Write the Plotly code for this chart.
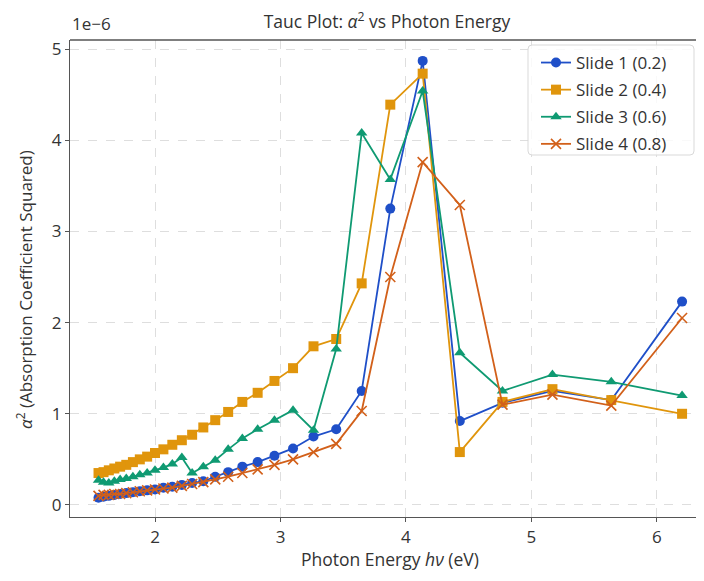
import plotly.graph_objects as go

# Photon energy (eV)
energy = [6.20, 5.636, 5.167, 4.769, 4.429, 4.133, 3.875, 3.647, 3.444, 3.263,
          3.10, 2.952, 2.818, 2.696, 2.583, 2.48, 2.385, 2.296, 2.214, 2.138,
          2.067, 2.00, 1.9375, 1.879, 1.824, 1.771, 1.722, 1.676, 1.632, 1.590, 1.55]

# alpha^2 values in units of 1e-6
slide1 = [2.23, 1.15, 1.25, 1.12, 0.92, 4.87, 3.25, 1.25, 0.83, 0.75,
          0.62, 0.54, 0.47, 0.42, 0.36, 0.31, 0.26, 0.24, 0.22, 0.20,
          0.19, 0.17, 0.16, 0.15, 0.14, 0.13, 0.12, 0.11, 0.10, 0.09, 0.08]
slide2 = [1.00, 1.15, 1.27, 1.13, 0.58, 4.73, 4.39, 2.43, 1.82, 1.74,
          1.50, 1.36, 1.23, 1.13, 1.02, 0.93, 0.85, 0.77, 0.71, 0.66,
          0.61, 0.57, 0.53, 0.50, 0.47, 0.44, 0.42, 0.40, 0.38, 0.36, 0.35]
slide3 = [1.20, 1.35, 1.43, 1.25, 1.67, 4.54, 3.57, 4.08, 1.71, 0.82,
          1.04, 0.93, 0.83, 0.73, 0.61, 0.49, 0.42, 0.35, 0.52, 0.45,
          0.41, 0.38, 0.35, 0.33, 0.31, 0.29, 0.28, 0.26, 0.24, 0.25, 0.27]
slide4 = [2.05, 1.09, 1.21, 1.10, 3.29, 3.76, 2.50, 1.03, 0.67, 0.58,
          0.50, 0.44, 0.39, 0.35, 0.31, 0.28, 0.25, 0.23, 0.21, 0.19,
          0.18, 0.17, 0.16, 0.15, 0.14, 0.13, 0.12, 0.12, 0.11, 0.11, 0.10]

names = ["Slide 1 (0.2)", "Slide 2 (0.4)", "Slide 3 (0.6)", "Slide 4 (0.8)"]
series = [slide1, slide2, slide3, slide4]
colors = ["#1f4fc8", "#e0950c", "#0f9a72", "#d2601a"]
symbols = ["circle", "square", "triangle-up", "x-thin"]

FONT = "Open Sans"
TXT = "#333333"
SPINE = "#555555"

# page body adds an 8px margin on every side; keep the page inside the window
W, H = 688, 565
PL, PT, PW, PH = 70, 40, 626, 477   # plot area in window pixels


def px(xw):
    return (xw - PL) / PW


def py(yw):
    return (PT + PH - yw) / PH


fig = go.Figure()
for i, (name, ys, c, s) in enumerate(zip(names, series, colors, symbols)):
    if s == "x-thin":
        marker = dict(symbol=s, size=10, color=c, line=dict(color=c, width=1.6))
    else:
        marker = dict(symbol=s, size=10, color=c, line=dict(width=0))
    fig.add_trace(go.Scatter(x=energy, y=ys, mode="lines+markers", name=name,
                             legendgroup=f"g{i}",
                             line=dict(color=c, width=1.8), marker=marker))

axis_common = dict(
    showline=True, linecolor=SPINE, linewidth=1.3, mirror=False,
    ticks="outside", ticklen=4, tickcolor=SPINE,
    showgrid=True, gridcolor="rgba(0,0,0,0.13)", griddash="dash", gridwidth=1,
    zeroline=False, tickfont=dict(size=17, color=TXT, family=FONT),
    automargin=False,
)

fig.update_layout(
    width=W, height=H,
    margin=dict(l=PL - 8, r=W + 8 - PL - PW, t=PT - 8, b=H + 8 - PT - PH),
    paper_bgcolor="white", plot_bgcolor="white",
    font=dict(family=FONT, color=TXT),
    title=dict(text="Tauc Plot: <i>α</i><sup>2</sup> vs Photon Energy",
               x=(387 - 8) / W, xanchor="center", y=1 - 14 / H, yanchor="middle",
               font=dict(size=17.5, color=TXT, family=FONT), automargin=False),
    xaxis=dict(range=[1.3227, 6.311], tickvals=[2, 3, 4, 5, 6], **axis_common),
    yaxis=dict(range=[-0.132, 5.099], tickvals=[0, 1, 2, 3, 4, 5], **axis_common),
    legend=dict(x=px(536), y=py(45), xanchor="left", yanchor="top",
                bgcolor="rgba(0,0,0,0)", borderwidth=0,
                font=dict(size=17, color=TXT, family=FONT), tracegroupgap=2,
                traceorder="grouped", itemwidth=30),
    showlegend=True,
)

# top spine (the right one lies beyond the window edge in the reference)
fig.add_shape(type="line", xref="paper", yref="paper", x0=0, x1=1, y0=1, y1=1,
              line=dict(color=SPINE, width=1.3))

# rounded legend frame
x0, x1, y0, y1 = px(528), px(694), py(155), py(45)
rx, ry = 4 / PW, 4 / PH
path = (f"M {x0 + rx},{y1} L {x1 - rx},{y1} Q {x1},{y1} {x1},{y1 - ry} "
        f"L {x1},{y0 + ry} Q {x1},{y0} {x1 - rx},{y0} L {x0 + rx},{y0} "
        f"Q {x0},{y0} {x0},{y0 + ry} L {x0},{y1 - ry} Q {x0},{y1} {x0 + rx},{y1} Z")
fig.add_shape(type="path", path=path, xref="paper", yref="paper", layer="above",
              fillcolor="rgba(255,255,255,0.8)", line=dict(color="#d9d9d9", width=1))

# axis titles and offset text
fig.add_annotation(text="Photon Energy <i>hν</i> (eV)", xref="paper", yref="paper",
                   x=px(390), y=py(559), xanchor="center", yanchor="middle",
                   showarrow=False, font=dict(size=17.5, color=TXT, family=FONT))
fig.add_annotation(text="<i>α</i><sup>2</sup> (Absorption Coefficient Squared)", xref="paper", yref="paper",
                   x=px(24), y=py(290), xanchor="center", yanchor="middle",
                   textangle=-90, showarrow=False, font=dict(size=17, color=TXT, family=FONT))
fig.add_annotation(text="1e\u22126", xref="paper", yref="paper", x=0.0, y=1.0,
                   xanchor="left", yanchor="bottom", yshift=3, showarrow=False,
                   font=dict(size=17, color=TXT, family=FONT))

fig.write_html("out.html")
